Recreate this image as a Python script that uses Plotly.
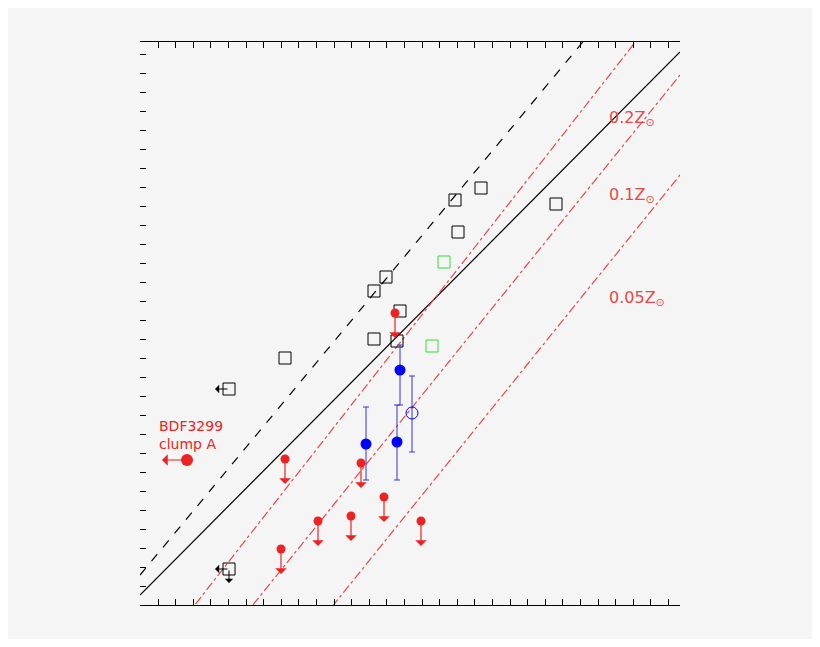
import plotly.graph_objects as go

RED = "#ee2222"
LRED = "#e84848"
# data in arbitrary units (x: 0..540, y: 0..563)
sq_x = [89, 145, 234, 246, 234, 260, 257, 315, 341, 318, 416, 89]
sq_y = [216, 247, 314, 328, 266, 294, 264, 405, 417, 373, 401, 36]
gr_x = [304, 292]
gr_y = [343, 259]
ul_x = [255, 145, 221, 178, 211, 244, 141, 281]
ul_y = [292, 146, 142, 84, 89, 108, 56, 84]
bl_x = [260, 226, 257]
bl_y = [235, 161, 163]
bl_lo = [200, 125, 125]
bl_hi = [260, 198, 200]
op_x = [272]
op_y = [192]
op_lo = [153]
op_hi = [229]
bdf_x = [47]
bdf_y = [145]
line_x = [0, 540]
dash_y = [30, 680]
solid_y = [10, 553]
z_labels = ["0.2Z<sub>⊙</sub>", "0.1Z<sub>⊙</sub>", "0.05Z<sub>⊙</sub>"]
z_lines = [(-70, 620), (-140, 530), (-240, 430)]
z_lab_y = [487, 410, 307]

fig = go.Figure()
fig.add_trace(go.Scatter(x=line_x, y=dash_y, mode="lines", line=dict(color="black", dash="dash", width=1.2)))
fig.add_trace(go.Scatter(x=line_x, y=solid_y, mode="lines", line=dict(color="black", width=1.2)))
for (a, b) in z_lines:
    fig.add_trace(go.Scatter(x=line_x, y=[a, b], mode="lines", line=dict(color=LRED, dash="dashdot", width=1.2)))
fig.add_trace(go.Scatter(x=sq_x, y=sq_y, mode="markers", marker=dict(symbol="square-open", size=12, color="black")))
fig.add_trace(go.Scatter(x=gr_x, y=gr_y, mode="markers", marker=dict(symbol="square-open", size=12, color="#33dd33")))
fig.add_trace(go.Scatter(x=ul_x, y=ul_y, mode="markers", marker=dict(size=9, color=RED)))
fig.add_trace(go.Scatter(x=bdf_x, y=bdf_y, mode="markers", marker=dict(size=12, color=RED)))
fig.add_trace(go.Scatter(x=bl_x, y=bl_y, mode="markers", marker=dict(size=11, color="blue"),
    error_y=dict(type="data", symmetric=False, array=[h - y for h, y in zip(bl_hi, bl_y)],
                 arrayminus=[y - l for l, y in zip(bl_lo, bl_y)], color="#3333dd", width=3, thickness=1)))
fig.add_trace(go.Scatter(x=op_x, y=op_y, mode="markers", marker=dict(symbol="circle-open", size=12, color="blue"),
    error_y=dict(type="data", symmetric=False, array=[op_hi[0] - op_y[0]], arrayminus=[op_y[0] - op_lo[0]],
                 color="#3333dd", width=3, thickness=1)))

ann = []
for x, y in zip(ul_x, ul_y):
    ann.append(dict(x=x, y=y - 25, ax=x, ay=y, axref="x", ayref="y", showarrow=True,
                    arrowhead=1, arrowsize=1.6, arrowcolor=RED, arrowwidth=1.2, text=""))
ann.append(dict(x=bdf_x[0] - 25, y=bdf_y[0], ax=bdf_x[0], ay=bdf_y[0], axref="x", ayref="y",
                showarrow=True, arrowhead=1, arrowsize=1.6, arrowcolor=RED, arrowwidth=1.2, text=""))
for i in (0, 11):
    ann.append(dict(x=sq_x[i] - 14, y=sq_y[i], ax=sq_x[i], ay=sq_y[i], axref="x", ayref="y",
                    showarrow=True, arrowhead=1, arrowsize=1.4, arrowcolor="black", arrowwidth=1, text=""))
ann.append(dict(x=sq_x[11], y=sq_y[11] - 14, ax=sq_x[11], ay=sq_y[11], axref="x", ayref="y",
                showarrow=True, arrowhead=1, arrowsize=1.4, arrowcolor="black", arrowwidth=1, text=""))
ann.append(dict(x=17, y=170, text="BDF3299<br>clump A", showarrow=False, xanchor="left",
                align="left", font=dict(color=RED, size=14)))
for t, y in zip(z_labels, z_lab_y):
    ann.append(dict(x=467, y=y, text=t, showarrow=False, xanchor="left", font=dict(color=LRED, size=16)))

fig.update_layout(width=804, height=631, margin=dict(l=132, r=132, t=34, b=34),
    paper_bgcolor="#f5f5f5", plot_bgcolor="#f5f5f5", showlegend=False, annotations=ann,
    font=dict(family="DejaVu Sans"))
fig.update_xaxes(range=[0, 540], showgrid=False, zeroline=False, showticklabels=False,
    ticks="inside", tick0=18, dtick=17.6, ticklen=6, mirror="ticks", showline=True,
    linecolor="black", tickcolor="black")
fig.update_yaxes(range=[0, 563], showgrid=False, zeroline=False, showticklabels=False,
    ticks="inside", tick0=0, dtick=19, ticklen=6, showline=False, tickcolor="black")
fig.write_html("out.html")
